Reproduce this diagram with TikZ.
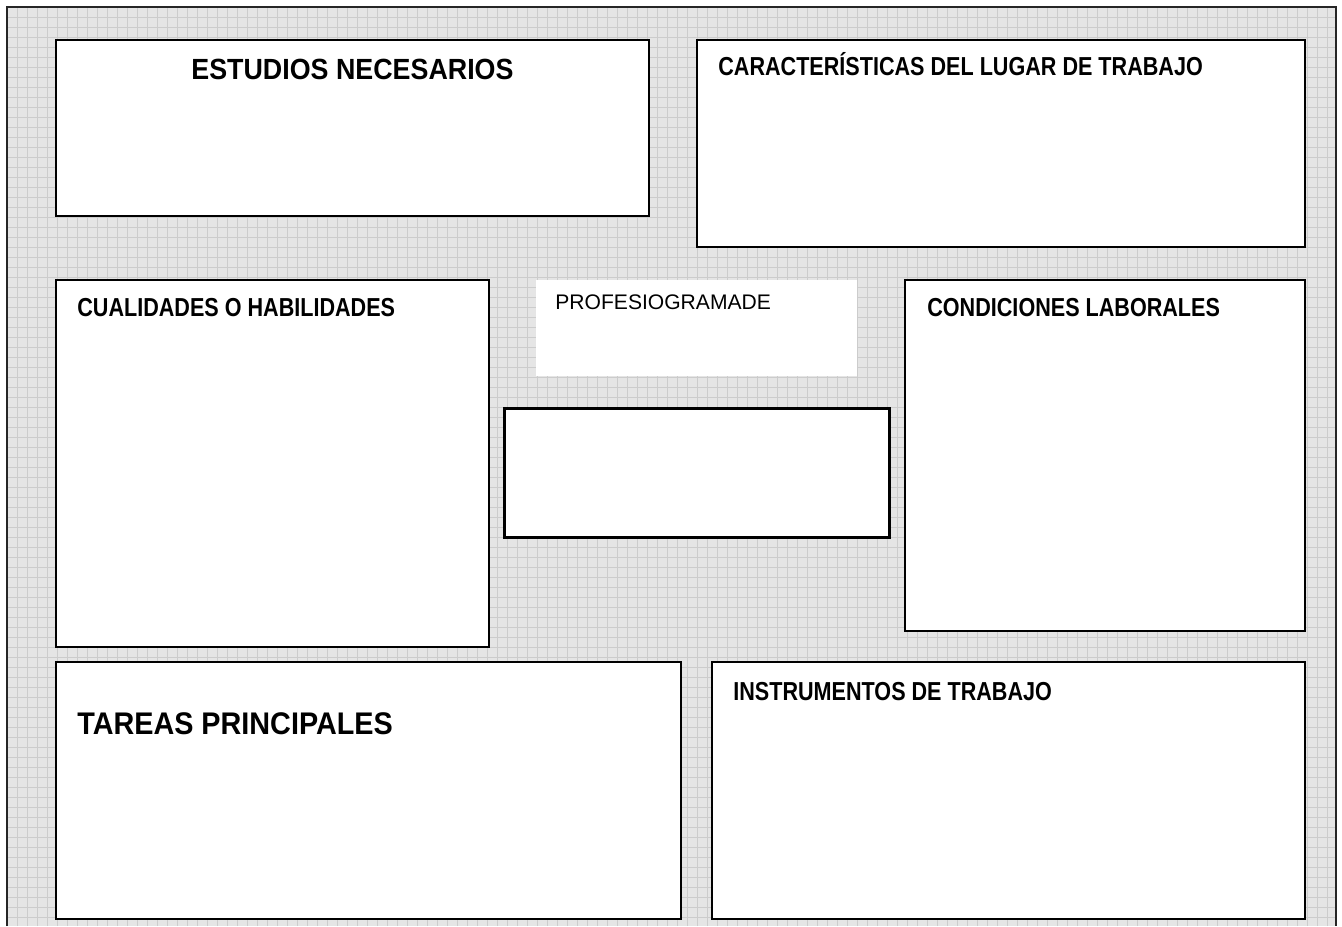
\documentclass[tikz,border=0pt]{standalone}
\usepackage{fontspec}
\setmainfont{Liberation Sans}
\newfontfamily\headfont[FakeStretch=0.83]{Liberation Sans}
\newfontfamily\bigfont[FakeStretch=0.92]{Liberation Sans}

\tikzset{
	box/.style={draw, line width=1.1pt, fill=white, inner sep=0pt, anchor=north west},
	head/.style={anchor=base west, inner sep=0pt, font=\headfont\bfseries\fontsize{14.8}{17}\selectfont},
	bighead/.style={inner sep=0pt, font=\bigfont\bfseries\fontsize{#1}{20}\selectfont},
}

\begin{document}
\begin{tikzpicture}
	\useasboundingbox (0,0) rectangle (26.84,-18.52);
	% fondo cuadriculado
	\fill[gray!20] (0.14,-0.14) rectangle (26.72,-18.52);
	\begin{scope}[shift={(0.14,-0.14)}]
		\draw[gray!40, line width=0.3pt, step=0.2] (0,0) grid (26.58,-18.38);
	\end{scope}
	\draw[line width=1.1pt, black!85] (0.14,-18.52) -- (0.14,-0.14) -- (26.72,-0.14) -- (26.72,-18.52);

	% cuadros
	\node[box, minimum width=11.86cm, minimum height=3.52cm] (est) at (1.10,-0.78) {};
	\node[box, minimum width=12.16cm, minimum height=4.14cm] (car) at (13.92,-0.78) {};
	\node[box, minimum width=8.66cm, minimum height=7.34cm] (cua) at (1.10,-5.58) {};
	\node[box, draw=none, minimum width=6.42cm, minimum height=1.92cm] (pro) at (10.70,-5.58) {};
	\node[box, line width=1.9pt, minimum width=7.70cm, minimum height=2.58cm] (cen) at (10.06,-8.14) {};
	\node[box, minimum width=8.00cm, minimum height=7.02cm] (con) at (18.08,-5.58) {};
	\node[box, minimum width=12.50cm, minimum height=5.14cm] (tar) at (1.10,-13.22) {};
	\node[box, minimum width=11.86cm, minimum height=5.14cm] (ins) at (14.22,-13.22) {};

	% titulos
	\node[bighead=16.6, anchor=base] (estT) at ([yshift=-0.80cm]est.north) {ESTUDIOS NECESARIOS};
	\node[head] (carT) at ([shift={(0.44,-0.73)}]car.north west) {CARACTERÍSTICAS DEL LUGAR DE TRABAJO};
	\node[head] (cuaT) at ([shift={(0.44,-0.75)}]cua.north west) {CUALIDADES O HABILIDADES};
	\node[head] (conT) at ([shift={(0.46,-0.75)}]con.north west) {CONDICIONES LABORALES};
	\node[head] (insT) at ([shift={(0.44,-0.79)}]ins.north west) {INSTRUMENTOS DE TRABAJO};
	\node[bighead=17.8, anchor=base west] (tarT) at ([shift={(0.44,-1.46)}]tar.north west) {TAREAS PRINCIPALES};
	\node[anchor=base west, inner sep=0pt, font=\fontsize{12}{14}\selectfont] (proT) at ([shift={(0.40,-0.60)}]pro.north west) {PROFESIOGRAMADE};
\end{tikzpicture}
\end{document}
